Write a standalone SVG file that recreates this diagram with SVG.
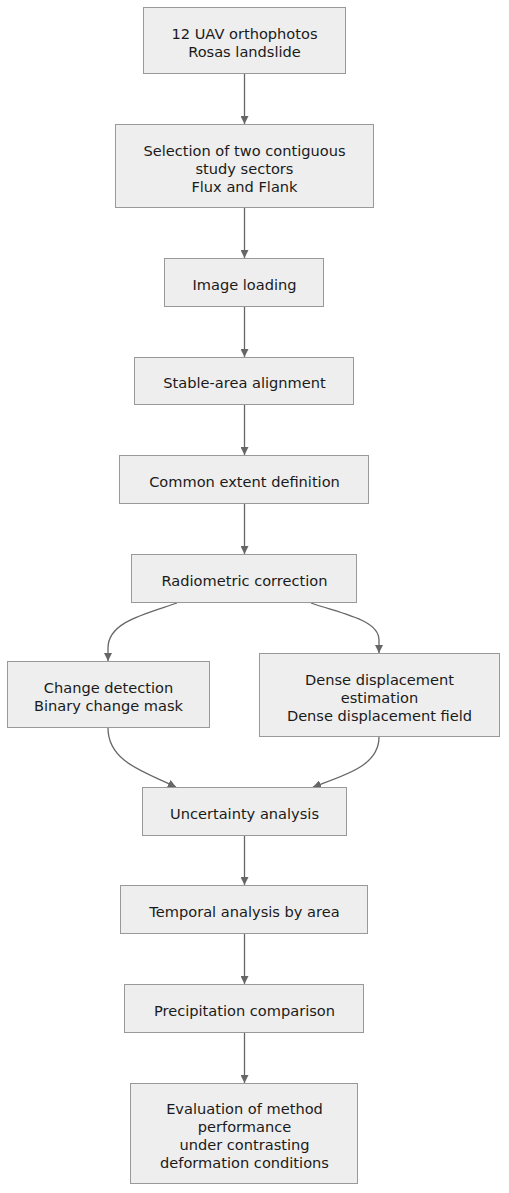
<svg xmlns="http://www.w3.org/2000/svg" width="509" height="1193" viewBox="0 0 509 1193">
<style>
.n rect{fill:#eeeeee;stroke:#999999;stroke-width:1}
.n text{font-family:"DejaVu Sans",sans-serif;font-size:14.6px;fill:#1a1a1a;text-anchor:middle;dominant-baseline:central}
.e path{fill:none;stroke:#666666;stroke-width:1.3}
</style>
<defs>
<marker id="ah" viewBox="0 0 10 10" refX="10" refY="5" markerWidth="8" markerHeight="8" markerUnits="userSpaceOnUse" orient="auto">
<path d="M0,0 L10,5 L0,10 z" fill="#666666"/>
</marker>
</defs>
<rect width="509" height="1193" fill="#ffffff"/>
<g class="e">
<path d="M244.5,74 L244.5,124" marker-end="url(#ah)"/>
<path d="M244.5,208 L244.5,258" marker-end="url(#ah)"/>
<path d="M244.5,307 L244.5,357" marker-end="url(#ah)"/>
<path d="M244.5,405 L244.5,455" marker-end="url(#ah)"/>
<path d="M244.5,504 L244.5,554" marker-end="url(#ah)"/>
<path d="M177,603 C145,614 108,622 108,648 L108,661" marker-end="url(#ah)"/>
<path d="M311,603 C343,614 379,620 379,640 L379,653" marker-end="url(#ah)"/>
<path d="M108,728 C108,762 145,772 176,787" marker-end="url(#ah)"/>
<path d="M379,737 C379,766 345,775 313,787" marker-end="url(#ah)"/>
<path d="M244.5,836 L244.5,885" marker-end="url(#ah)"/>
<path d="M244.5,934 L244.5,984" marker-end="url(#ah)"/>
<path d="M244.5,1033 L244.5,1083" marker-end="url(#ah)"/>
</g>
<g id="n1" class="n"><rect x="143.5" y="7.5" width="202" height="66"/><text x="244.5" y="33">12 UAV orthophotos</text><text x="244.5" y="51">Rosas landslide</text></g>
<g id="n2" class="n"><rect x="115.5" y="124.5" width="258" height="83"/><text x="244.5" y="150">Selection of two contiguous</text><text x="244.5" y="168">study sectors</text><text x="244.5" y="186">Flux and Flank</text></g>
<g id="n3" class="n"><rect x="164.5" y="258.5" width="159" height="48"/><text x="244.5" y="284">Image loading</text></g>
<g id="n4" class="n"><rect x="134.5" y="357.5" width="219" height="47"/><text x="244.5" y="382">Stable-area alignment</text></g>
<g id="n5" class="n"><rect x="119.5" y="455.5" width="249" height="48"/><text x="244.5" y="481">Common extent definition</text></g>
<g id="n6" class="n"><rect x="131.5" y="554.5" width="225" height="48"/><text x="244.5" y="580">Radiometric correction</text></g>
<g id="n7" class="n"><rect x="7.5" y="661.5" width="202" height="66"/><text x="108.5" y="687">Change detection</text><text x="108.5" y="705">Binary change mask</text></g>
<g id="n8" class="n"><rect x="259.5" y="653.5" width="240" height="83"/><text x="379.5" y="679">Dense displacement</text><text x="379.5" y="697">estimation</text><text x="379.5" y="715">Dense displacement field</text></g>
<g id="n9" class="n"><rect x="142.5" y="787.5" width="204" height="48"/><text x="244.5" y="813">Uncertainty analysis</text></g>
<g id="n10" class="n"><rect x="120.5" y="885.5" width="247" height="48"/><text x="244.5" y="911">Temporal analysis by area</text></g>
<g id="n11" class="n"><rect x="124.5" y="984.5" width="239" height="48"/><text x="244.5" y="1010">Precipitation comparison</text></g>
<g id="n12" class="n"><rect x="130.5" y="1083.5" width="227" height="100"/><text x="244.5" y="1108">Evaluation of method</text><text x="244.5" y="1126">performance</text><text x="244.5" y="1144">under contrasting</text><text x="244.5" y="1162">deformation conditions</text></g>
</svg>
